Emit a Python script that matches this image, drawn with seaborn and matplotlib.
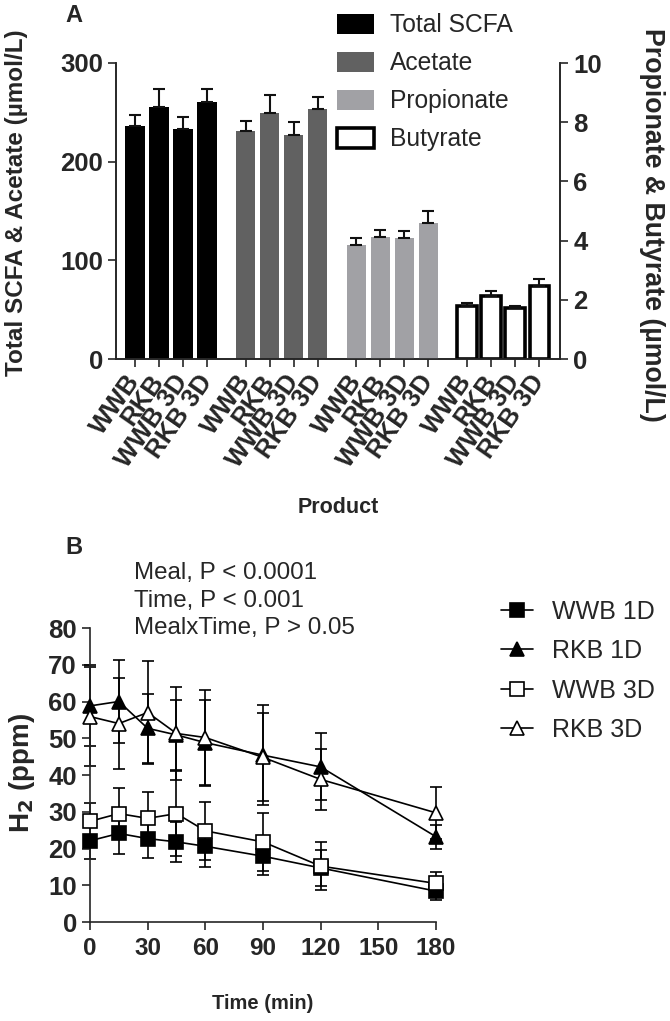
import numpy as np
import pandas as pd
import matplotlib
matplotlib.use("Agg")
import matplotlib.pyplot as plt
import seaborn as sns
from matplotlib.patches import Patch
from matplotlib.lines import Line2D

sns.set_theme(style="ticks")
plt.rcParams['font.family'] = ['Liberation Sans', 'DejaVu Sans']
plt.rcParams['axes.linewidth'] = 1.2

# ---------------- data (panel A) ----------------
products = ["WWB", "RKB", "WWB 3D", "RKB 3D"]
series_names = ["Total SCFA", "Acetate", "Propionate", "Butyrate"]
total_scfa = [236.0, 255.0, 233.0, 260.5]
total_scfa_err = [11.4, 18.2, 12.4, 13.2]
acetate = [231.0, 249.0, 227.0, 253.0]
acetate_err = [10.5, 18.6, 12.9, 12.8]
propionate = [3.86, 4.13, 4.10, 4.58]
propionate_err = [0.24, 0.23, 0.24, 0.42]
butyrate = [1.79, 2.13, 1.72, 2.46]
butyrate_err = [0.11, 0.18, 0.07, 0.24]

# ---------------- data (panel B) ----------------
time_min = [0, 15, 30, 45, 60, 90, 120, 180]
wwb1d = [22.1, 24.1, 22.7, 21.8, 20.6, 17.9, 14.7, 8.4]
wwb1d_err = [5.0, 5.5, 5.4, 5.5, 5.6, 5.2, 5.0, 2.5]
rkb1d = [58.8, 60.0, 52.7, 50.9, 48.8, 45.4, 42.2, 23.2]
rkb1d_err = [11.0, 11.3, 9.3, 9.5, 11.7, 13.6, 9.1, 3.3]
wwb3d = [27.4, 29.5, 28.2, 29.5, 24.8, 21.8, 15.2, 10.5]
wwb3d_err = [5.0, 7.0, 7.2, 11.5, 7.9, 7.9, 6.6, 3.1]
rkb3d = [55.9, 54.0, 57.0, 51.3, 50.2, 44.8, 38.8, 29.7]
rkb3d_err = [13.5, 12.5, 14.0, 12.6, 13.0, 12.0, 8.4, 7.1]

W, H = 670, 1021
fig = plt.figure(figsize=(W / 100, H / 100), dpi=100)

def fx(px):
    return px / W

def fy(py):
    return 1 - py / H

# ================= Panel A =================
axA = fig.add_axes([fx(116), fy(359), fx(560) - fx(116), fy(63) - fy(359)])
axA2 = axA.twinx()

group_gap = 4.61
pos = [[g * group_gap + i for i in range(4)] for g in range(4)]

colors = ["#000000", "#616161", "#a1a1a5", "#ffffff"]
vals = [total_scfa, acetate, propionate, butyrate]
errs = [total_scfa_err, acetate_err, propionate_err, butyrate_err]
axes_for = [axA, axA, axA2, axA2]

for k in range(4):
    ax = axes_for[k]
    df = pd.DataFrame({"pos": pos[k], "val": vals[k]})
    kw = dict(edgecolor="none", linewidth=0)
    if k == 3:
        kw = dict(edgecolor="black", linewidth=2.6)
    sns.barplot(data=df, x="pos", y="val", native_scale=True, color=colors[k],
                saturation=1, width=0.8, errorbar=None, ax=ax, zorder=2, **kw)
    ax.errorbar(pos[k], vals[k], yerr=[np.zeros(4), errs[k]], fmt="none",
                ecolor="#111111", elinewidth=1.5, capsize=4, capthick=1.5, zorder=3)

axA.set_ylim(0, 300)
axA2.set_ylim(0, 10)
axA.set_xlim(-0.79, 17.7)
axA2.set_xlim(-0.79, 17.7)
axA.set_yticks([0, 100, 200, 300])
axA2.set_yticks([0, 2, 4, 6, 8, 10])
for a in (axA, axA2):
    a.spines['top'].set_visible(False)
    for s in a.spines.values():
        s.set_linewidth(1.2)
    a.tick_params(axis='both', length=6, width=1.2, labelsize=18.5)
    a.set_xlabel("")
    a.set_ylabel("")
for lab in axA.get_yticklabels() + axA2.get_yticklabels():
    lab.set_fontweight("bold")

all_pos = [p for grp in pos for p in grp]
axA.set_xticks(all_pos)
axA.set_xticklabels(products * 4, rotation=55, ha="right", va="center",
                    rotation_mode="anchor", fontweight="bold", fontsize=18.5)
axA.tick_params(axis='x', pad=7)

fig.text(fx(17), fy(203), "Total SCFA & Acetate (\u00b5mol/L)", rotation=90,
         ha="center", va="center", fontsize=17.5, fontweight="bold")
fig.text(fx(652), fy(225), "Propionate & Butyrate (\u00b5mol/L)", rotation=270,
         ha="center", va="center", fontsize=19.3, fontweight="bold")
fig.text(fx(338), fy(507), "Product", ha="center", va="center",
         fontsize=15.5, fontweight="bold")
fig.text(fx(74), fy(15), "A", ha="center", va="center", fontsize=17, fontweight="bold")

handlesA = [Patch(facecolor=colors[i], edgecolor=("black" if i == 3 else colors[i]),
                  linewidth=(2.6 if i == 3 else 0)) for i in range(4)]
fig.legend(handlesA, series_names, loc="upper left",
           bbox_to_anchor=(fx(325), fy(1)), frameon=False, fontsize=17.7,
           handlelength=1.5, handleheight=0.85, handletextpad=0.65,
           labelspacing=0.57, borderpad=0)

# ================= Panel B =================
axB = fig.add_axes([fx(90), fy(922), fx(436) - fx(90), fy(628) - fy(922)])

seriesB = [("WWB 1D", wwb1d, wwb1d_err, "s", "black"),
           ("RKB 1D", rkb1d, rkb1d_err, "^", "black"),
           ("WWB 3D", wwb3d, wwb3d_err, "s", "white"),
           ("RKB 3D", rkb3d, rkb3d_err, "^", "white")]

handlesB = []
for name, y, e, m, fc in seriesB:
    axB.errorbar(time_min, y, yerr=e, fmt="none", ecolor="black", elinewidth=1.2,
                 capsize=4, capthick=1.2, zorder=2, clip_on=False)
    sns.lineplot(x=time_min, y=y, ax=axB, color="black", linewidth=1.2,
                 marker=m, markersize=9.5, markerfacecolor=fc, markeredgecolor="black",
                 markeredgewidth=1.2, zorder=3, clip_on=False)
    handlesB.append(Line2D([0], [0], color="black", linewidth=1.2, marker=m,
                           markersize=9.5, markerfacecolor=fc, markeredgecolor="black",
                           markeredgewidth=1.2))

axB.set_xlim(0, 180)
axB.set_ylim(0, 80)
axB.set_xticks([0, 30, 60, 90, 120, 150, 180])
axB.set_yticks(list(range(0, 81, 10)))
sns.despine(ax=axB)
for s in axB.spines.values():
    s.set_linewidth(1.2)
axB.tick_params(axis='both', length=6, width=1.2)
axB.tick_params(axis='y', labelsize=18.5)
axB.tick_params(axis='x', labelsize=17.5, pad=5)
for lab in axB.get_yticklabels() + axB.get_xticklabels():
    lab.set_fontweight("bold")
axB.set_xlabel("")
axB.set_ylabel("")

fig.text(fx(263), fy(1003), "Time (min)", ha="center", va="center",
         fontsize=14.5, fontweight="bold")
fig.text(fx(22), fy(773), "H$_\\mathbf{2}$ (ppm)", rotation=90, ha="center", va="center",
         fontsize=20, fontweight="bold")
fig.text(fx(74), fy(548), "B", ha="center", va="center", fontsize=17, fontweight="bold")

for txt, yy in [("Meal, P < 0.0001", 573), ("Time, P < 0.001", 601),
                ("MealxTime, P > 0.05", 628)]:
    fig.text(fx(134), fy(yy), txt, ha="left", va="center", fontsize=17.4)

fig.legend(handlesB, [s[0] for s in seriesB], loc="upper left",
           bbox_to_anchor=(fx(488), fy(587)), frameon=False, fontsize=18,
           handlelength=1.3, handletextpad=0.75, labelspacing=0.62, borderpad=0)

fig.savefig("out.png", dpi=100)
